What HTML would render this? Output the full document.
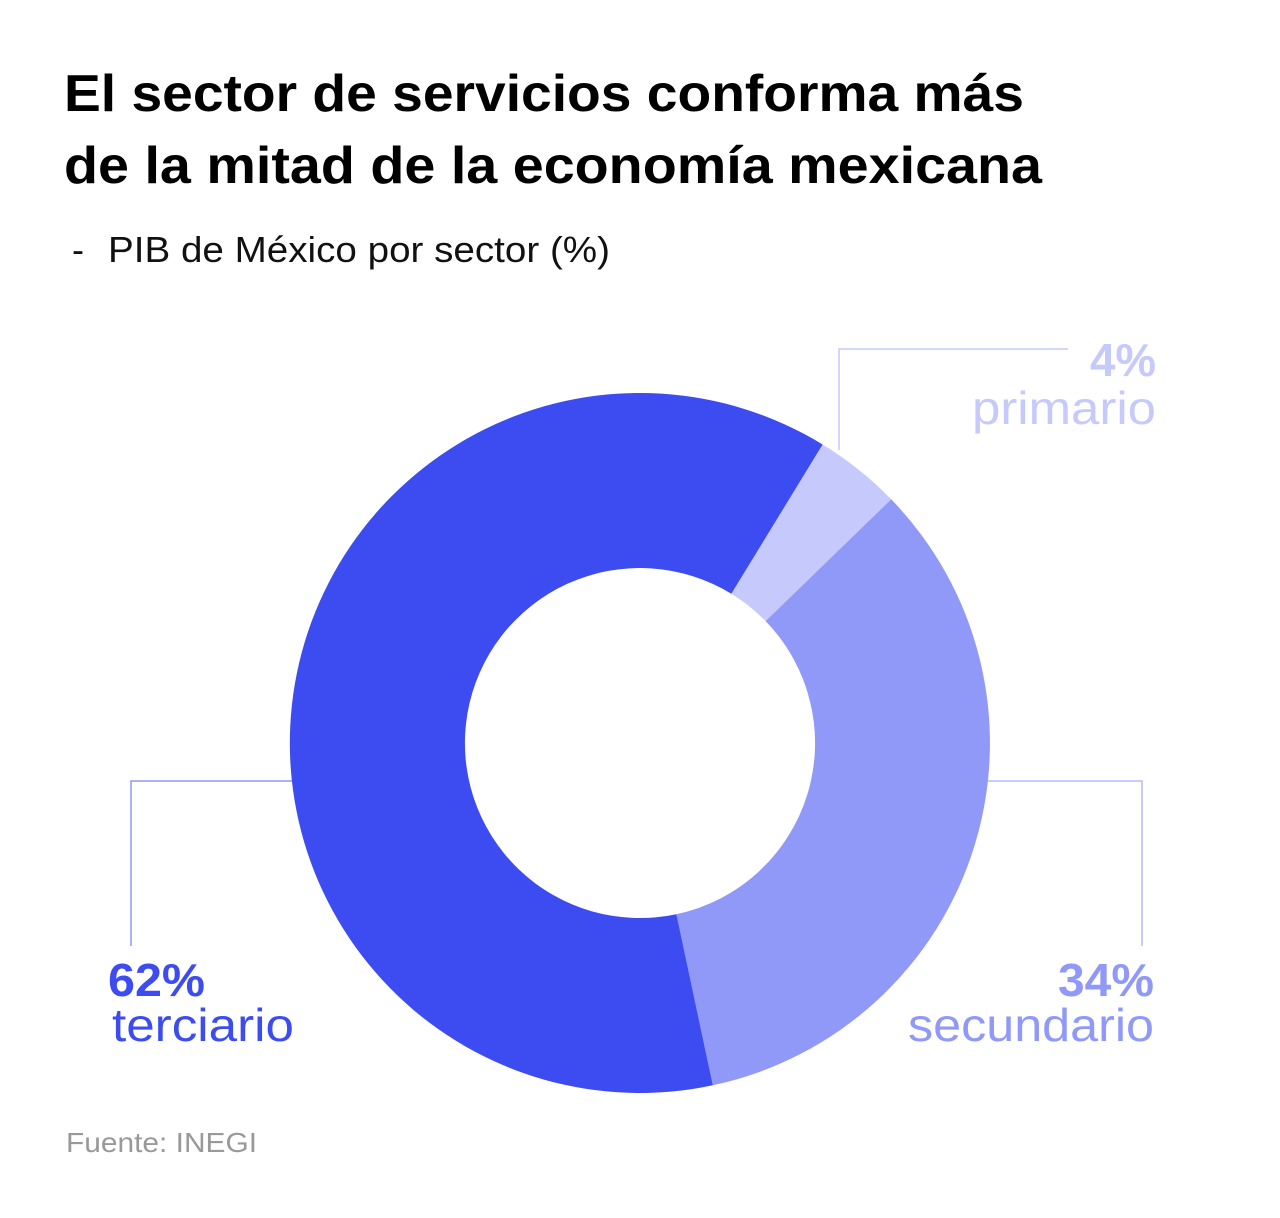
<!DOCTYPE html>
<html><head><meta charset="utf-8"><style>
html,body{margin:0;padding:0;background:#fff;}
</style></head><body>
<svg width="1280" height="1213" viewBox="0 0 1280 1213" xmlns="http://www.w3.org/2000/svg" font-family="Liberation Sans, sans-serif">
<text x="64" y="111" font-size="52" font-weight="bold" fill="#000" textLength="960" lengthAdjust="spacingAndGlyphs">El sector de servicios conforma más</text>
<text x="64" y="183" font-size="52" font-weight="bold" fill="#000" textLength="978" lengthAdjust="spacingAndGlyphs">de la mitad de la economía mexicana</text>
<text x="72" y="262" font-size="36" fill="#111">-</text>
<text x="108" y="262" font-size="36" fill="#111" textLength="502" lengthAdjust="spacingAndGlyphs">PIB de México por sector (%)</text>
<g fill="none" stroke-width="1.5">
<polyline points="839,450 839,349 1068,349" stroke="#c5c9fb"/>
<polyline points="292,781 131,781 131,946" stroke="#8f97f3"/>
<polyline points="988,781 1142,781 1142,946" stroke="#b7bcf8"/>
</g>
<g transform="translate(640,743)">
<path d="M182.6,-298.5 A350,350 0 0,1 251.2,-243.7 L125.6,-121.9 A175,175 0 0,0 91.3,-149.2 Z" fill="#c5c9fb"/>
<path d="M251.2,-243.7 A350,350 0 0,1 72.8,342.3 L36.4,171.2 A175,175 0 0,0 125.6,-121.9 Z" fill="#9099f8"/>
<path d="M72.8,342.3 A350,350 0 1,1 182.6,-298.5 L91.3,-149.2 A175,175 0 1,0 36.4,171.2 Z" fill="#3d4cf0"/>
</g>
<g font-size="46">
<text x="1090" y="376" font-weight="bold" fill="#c5c9fb" textLength="66" lengthAdjust="spacingAndGlyphs">4%</text>
<text x="972" y="424" fill="#c5c9fb" textLength="184" lengthAdjust="spacingAndGlyphs">primario</text>
<text x="1058" y="996" font-weight="bold" fill="#9099f8" textLength="96" lengthAdjust="spacingAndGlyphs">34%</text>
<text x="908" y="1041" fill="#9099f8" textLength="246" lengthAdjust="spacingAndGlyphs">secundario</text>
<text x="108" y="996" font-weight="bold" fill="#3d4cf0" textLength="97" lengthAdjust="spacingAndGlyphs">62%</text>
<text x="112" y="1041" fill="#3d4cf0" textLength="182" lengthAdjust="spacingAndGlyphs">terciario</text>
</g>
<text x="66" y="1152" font-size="28" fill="#999" textLength="191" lengthAdjust="spacingAndGlyphs">Fuente: INEGI</text>
</svg>
</body></html>
